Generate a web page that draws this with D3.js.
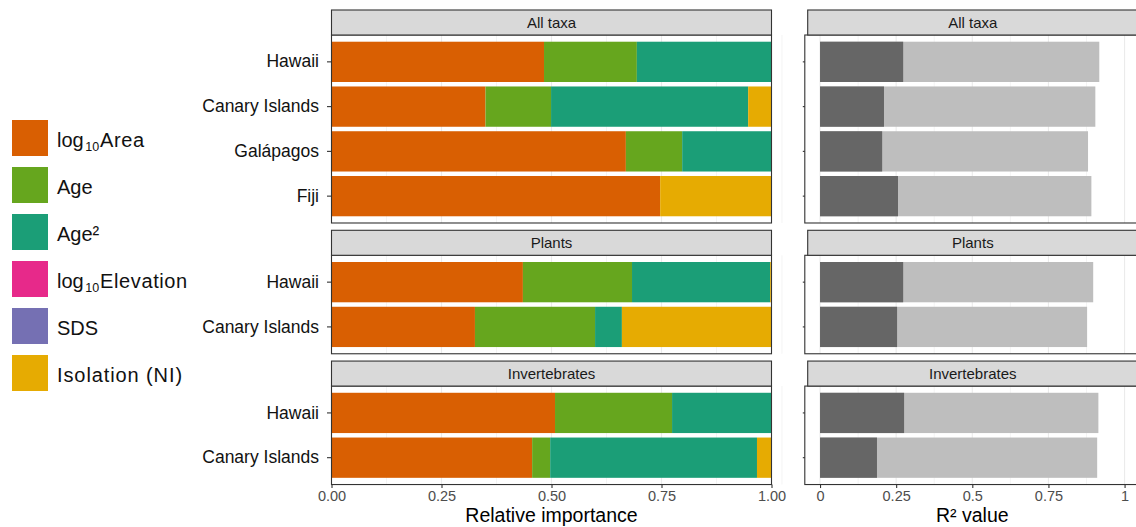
<!DOCTYPE html>
<html><head><meta charset="utf-8">
<script src="https://cdn.jsdelivr.net/npm/d3@7"></script>
<style>body{margin:0;background:#fff}svg{display:block;font-family:"Liberation Sans",Arial,sans-serif}</style>
</head><body><svg id="c" width="1136" height="527"></svg>
<script>
// ---- data ----
const groups = ["All taxa", "Plants", "Invertebrates"];
const islandsAll = ["Hawaii", "Canary Islands", "Galápagos", "Fiji"];
const islandsSub = ["Hawaii", "Canary Islands"];
const predictors = ["log10Area", "Age", "Age²", "log10Elevation", "SDS", "Isolation (NI)"];
const predictorColors = ["#D95F02", "#66A61E", "#1B9E77", "#E7298A", "#7570B3", "#E6AB02"];
// relative importance per island: [log10Area, Age, Age², log10Elevation, SDS, Isolation]
const allTaxaImportance = [
  [0.483, 0.211, 0.306, 0, 0, 0],
  [0.350, 0.149, 0.448, 0, 0, 0.053],
  [0.669, 0.128, 0.203, 0, 0, 0],
  [0.747, 0, 0, 0, 0, 0.253]
];
const plantsImportance = [
  [0.435, 0.248, 0.314, 0, 0, 0.003],
  [0.326, 0.273, 0.061, 0, 0, 0.340]
];
const invertImportance = [
  [0.508, 0.266, 0.226, 0, 0, 0],
  [0.456, 0.041, 0.470, 0, 0, 0.033]
];
// R² values: [marginal, total]
const allTaxaR2 = [[0.273, 0.917], [0.210, 0.904], [0.204, 0.880], [0.256, 0.891]];
const plantsR2 = [[0.273, 0.897], [0.253, 0.877]];
const invertR2 = [[0.276, 0.914], [0.187, 0.910]];
const leftTicks = [0, 0.25, 0.5, 0.75, 1];
const leftTickLabels = ["0.00", "0.25", "0.50", "0.75", "1.00"];
const rightTickLabels = ["0", "0.25", "0.5", "0.75", "1"];

const panels = [
  {name: groups[0], islands: islandsAll, imp: allTaxaImportance, r2: allTaxaR2},
  {name: groups[1], islands: islandsSub, imp: plantsImportance, r2: plantsR2},
  {name: groups[2], islands: islandsSub, imp: invertImportance, r2: invertR2}
];

const svg = d3.select("#c");
const unit = 44.76, stripH = 25, gap = 7.3;
const xL = d3.scaleLinear().domain([0, 1]).range([331.5, 771.5]);
const xR = d3.scaleLinear().domain([-0.05, 1.05]).range([804.8, 1139.8]);
const color = d3.scaleOrdinal().domain(predictors).range(predictorColors);
const border = "#333333";
const FONT = "Liberation Sans, Arial, sans-serif";

let rowTop = 10;
panels.forEach((p, pi) => {
  const n = p.islands.length;
  const pTop = rowTop + stripH, pBot = pTop + unit * (n + 0.2);
  const y = d3.scaleBand().domain(p.islands).range([pTop, pBot]).paddingInner(0.1).paddingOuter(0.15);

  // ---------- left panel ----------
  const gL = svg.append("g");
  gL.append("rect").attr("x", xL(0)).attr("y", pTop).attr("width", xL(1) - xL(0)).attr("height", pBot - pTop).attr("fill", "#fff");
  const minorL = [0.125, 0.375, 0.625, 0.875];
  gL.selectAll(".mn").data(minorL).join("line").attr("x1", d => xL(d)).attr("x2", d => xL(d))
    .attr("y1", pTop).attr("y2", pBot).attr("stroke", "#EBEBEB").attr("stroke-width", 0.55);
  gL.selectAll(".mj").data(leftTicks).join("line").attr("x1", d => xL(d)).attr("x2", d => xL(d))
    .attr("y1", pTop).attr("y2", pBot).attr("stroke", "#EBEBEB").attr("stroke-width", 1.1);
  p.islands.forEach((isl, i) => {
    const stack = d3.cumsum(p.imp[i]);
    p.imp[i].forEach((v, k) => {
      if (v <= 0) return;
      const x0 = k === 0 ? 0 : stack[k - 1];
      gL.append("rect").attr("x", xL(x0)).attr("width", xL(stack[k]) - xL(x0))
        .attr("y", y(isl)).attr("height", y.bandwidth()).attr("fill", color(predictors[k]));
    });
  });
  gL.append("rect").attr("x", xL(0)).attr("y", pTop).attr("width", xL(1) - xL(0)).attr("height", pBot - pTop)
    .attr("fill", "none").attr("stroke", border).attr("stroke-width", 1.1);
  // strip
  gL.append("rect").attr("x", xL(0)).attr("y", rowTop).attr("width", xL(1) - xL(0)).attr("height", stripH)
    .attr("fill", "#D9D9D9").attr("stroke", border).attr("stroke-width", 1.1);
  gL.append("text").attr("x", (xL(0) + xL(1)) / 2).attr("y", rowTop + stripH / 2 + 5.2).attr("text-anchor", "middle")
    .attr("font-size", 15).attr("fill", "#1A1A1A").text(p.name);
  // y axis
  const ya = gL.append("g").attr("transform", `translate(${xL(0)},0)`).call(d3.axisLeft(y).tickSize(4.5).tickPadding(8));
  ya.select(".domain").remove();
  ya.selectAll("line").attr("stroke", border).attr("stroke-width", 1.1);
  ya.selectAll("text").attr("font-size", 17.5).attr("fill", "#111").attr("font-family", FONT);

  // ---------- right panel ----------
  const gR = svg.append("g");
  const minorR = [-0.125, 0.125, 0.375, 0.625, 0.875];
  gR.selectAll(".mn").data(minorR).join("line").attr("x1", d => xR(d)).attr("x2", d => xR(d))
    .attr("y1", pTop).attr("y2", pBot).attr("stroke", "#EBEBEB").attr("stroke-width", 0.55);
  gR.selectAll(".mj").data(leftTicks).join("line").attr("x1", d => xR(d)).attr("x2", d => xR(d))
    .attr("y1", pTop).attr("y2", pBot).attr("stroke", "#EBEBEB").attr("stroke-width", 1.1);
  p.islands.forEach((isl, i) => {
    gR.append("rect").attr("x", xR(0)).attr("width", xR(p.r2[i][1]) - xR(0)).attr("y", y(isl)).attr("height", y.bandwidth()).attr("fill", "#BEBEBE");
    gR.append("rect").attr("x", xR(0)).attr("width", xR(p.r2[i][0]) - xR(0)).attr("y", y(isl)).attr("height", y.bandwidth()).attr("fill", "#666666");
  });
  gR.append("rect").attr("x", xR.range()[0]).attr("y", pTop).attr("width", xR.range()[1] - xR.range()[0]).attr("height", pBot - pTop)
    .attr("fill", "none").attr("stroke", border).attr("stroke-width", 1.1);
  gR.append("rect").attr("x", 807.7).attr("y", rowTop).attr("width", 340).attr("height", stripH)
    .attr("fill", "#D9D9D9").attr("stroke", border).attr("stroke-width", 1.1);
  gR.append("text").attr("x", (xR(0) + xR(1)) / 2 + 0.5).attr("y", rowTop + stripH / 2 + 5.2).attr("text-anchor", "middle")
    .attr("font-size", 15).attr("fill", "#1A1A1A").text(p.name);
  const yr = gR.append("g").attr("transform", `translate(${xR.range()[0]},0)`).call(d3.axisLeft(y).tickSize(2).tickFormat(""));
  yr.select(".domain").remove();
  yr.selectAll("line").attr("stroke", border).attr("stroke-width", 1.1);

  // bottom axes on last row
  if (pi === panels.length - 1) {
    const xa = svg.append("g").attr("transform", `translate(0,${pBot})`)
      .call(d3.axisBottom(xL).tickValues(leftTicks).tickFormat((d, i) => leftTickLabels[i]).tickSize(3.5).tickPadding(2.5));
    xa.select(".domain").remove();
    xa.selectAll("line").attr("stroke", border).attr("stroke-width", 1.1);
    xa.selectAll("text").attr("font-size", 14.5).attr("fill", "#4D4D4D").attr("font-family", FONT);
    const xb = svg.append("g").attr("transform", `translate(0,${pBot})`)
      .call(d3.axisBottom(xR).tickValues(leftTicks).tickFormat((d, i) => rightTickLabels[i]).tickSize(3.5).tickPadding(2.5));
    xb.select(".domain").remove();
    xb.selectAll("line").attr("stroke", border).attr("stroke-width", 1.1);
    xb.selectAll("text").attr("font-size", 14.5).attr("fill", "#4D4D4D").attr("font-family", FONT);
    svg.append("text").attr("x", (xL(0) + xL(1)) / 2).attr("y", 521.5).attr("text-anchor", "middle")
      .attr("font-size", 19.5).attr("fill", "#000").text("Relative importance");
    svg.append("text").attr("x", (xR(0) + xR(1)) / 2).attr("y", 521.5).attr("text-anchor", "middle")
      .attr("font-size", 19.5).attr("fill", "#000").text("R² value");
  }
  rowTop = pBot + gap;
});

// ---------- legend ----------
const lg = svg.append("g");
predictors.forEach((pr, i) => {
  const ky = 120 + i * 47;
  lg.append("rect").attr("x", 12).attr("y", ky).attr("width", 36).attr("height", 36).attr("fill", color(pr));
  const t = lg.append("text").attr("x", 57).attr("y", ky + 26.5).attr("font-size", 20).attr("fill", "#111");
  if (pr.startsWith("log10")) {
    t.append("tspan").text("log");
    t.append("tspan").attr("font-size", 12.5).attr("dx", 1.5).attr("dy", 4.5).text("10");
    t.append("tspan").attr("dy", -4.5).attr("dx", 1).attr("letter-spacing", 0.6).text(pr.slice(5));
  } else if (pr.startsWith("Isolation")) {
    t.attr("letter-spacing", 0.9).text(pr);
  } else {
    t.text(pr);
  }
});
</script></body></html>
